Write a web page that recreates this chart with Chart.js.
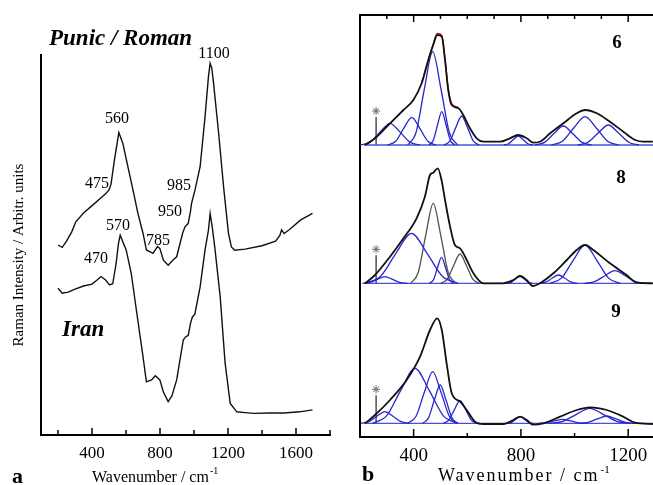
<!DOCTYPE html>
<html>
<head>
<meta charset="utf-8">
<script src="https://cdn.jsdelivr.net/npm/chart.js@4.4.1/dist/chart.umd.min.js"></script>
<style>
html, body { margin: 0; padding: 0; background: #fff; overflow: hidden; width: 653px; height: 485px; }
#a { position: absolute; left: 0; top: 0; }
#b { position: absolute; left: 330px; top: 0; }
</style>
</head>
<body>
<canvas id="a" width="345" height="485"></canvas>
<canvas id="b" width="400" height="485"></canvas>
<script>
// ---- panel a : two raw spectra (arbitrary units) ----
var punicX = [200,225,250,280,305,350,404,450,483,500,512,532,558,581,611,641,670,700,720,759,785,799,820,848,875,898,933,947,966,978,986,1006,1036,1065,1085,1095,1105,1115,1145,1174,1203,1220,1240,1300,1400,1480,1505,1515,1530,1560,1628,1697];
var punicY = [50,49.4,51,53.4,56.1,58.4,60.5,62.3,63.6,64.5,66,72.4,79.6,76.8,70.6,64.5,58.3,53.1,48.7,47.8,49.6,49.1,46,44.7,46,46.9,53.1,54.8,55.7,58.5,61,64.5,70.6,83.8,94.3,97.8,96.5,92.6,79.4,65.3,53,49.5,48.6,48.9,49.8,51,52.5,54,53,54,56.6,58.3];
var iranX = [200,225,260,300,350,400,430,453,480,503,522,542,556,566,580,601,631,661,700,720,750,772,799,820,848,870,898,937,950,966,980,990,1005,1036,1065,1085,1095,1108,1124,1154,1183,1213,1252,1300,1352,1450,1529,1620,1697];
var iranY = [38.6,37.3,37.6,38.4,39.2,39.7,40.8,41.7,40.8,39.5,39.8,45.2,50.5,52.6,51,48.7,42.5,32.9,20.6,14,14.5,15.6,14.5,11.3,8.8,10.3,14.5,25,25.8,26.2,29.5,31,31.8,39,48.7,53.9,58.3,54.5,48.7,36.4,18.9,8.3,6.1,5.9,5.7,5.8,5.8,6.1,6.6];
var aTicks = [200,400,600,800,1000,1200,1400,1600,1800];
var aLabels = [400,800,1200,1600];

// ---- panel b : band fits of samples 6, 8, 9 ----
var sub6X = [219,256,312,362,399,430,455,473,488,505,517,529,542,567,585,610,635,660,722,759,790,822,846,871,909,958,1008,1039,1083,1132,1182,1226,1257,1292];
var sub6Y = [0,6.7,21.7,35,45,61.7,85,100,110,108.3,85,55,40,36.7,30,16.7,6.7,3.3,3.3,6.7,10,6.7,2.3,3.3,11.7,21.7,31.7,35,31.7,23.3,13.3,5,3.3,3.3];
var fit6X = [430,455,473,488,505,517,529,542,567];
var fit6Y = [62.5,86,101,111.5,109.5,86.5,56.5,41.5,37.5];
var bands6 = [
  [[201,0],[238,2.9],[275,13],[312,21.7],[349,13],[386,2.9],[423,0]],
  [[303,0],[333,3.7],[363,16.6],[393,27.7],[423,16.6],[453,3.7],[483,0]],
  [[378,0],[409,12.6],[440,56],[471,93.3],[502,56],[533,12.6],[564,0]],
  [[457,0],[473,4.5],[489,20],[505,33.3],[521,20],[537,4.5],[553,0]],
  [[513,0],[535,3.9],[557,17.4],[579,29],[601,17.4],[623,3.9],[645,0]],
  [[736,0],[754,1.2],[772,5.4],[790,9],[808,5.4],[826,1.2],[844,0]],
  [[853,0],[888,2.6],[923,11.4],[958,19],[993,11.4],[1028,2.6],[1063,0]],
  [[913,0],[955,3.8],[997,17],[1039,28.3],[1081,17],[1123,3.8],[1165,0]],
  [[1012,0],[1050,2.7],[1088,12],[1126,20],[1164,12],[1202,2.7],[1240,0]]
];
var sub8X = [219,256,312,362,411,442,461,473,490,504,517,536,554,573,592,623,660,734,772,797,821,844,871,921,971,1008,1039,1070,1132,1194,1232,1292];
var sub8Y = [0,8.3,26.6,45,65,86.6,108.3,110.6,115,103.3,83.3,56.6,38.3,35,26.6,10,0,0,3.3,7.3,3.3,-2.7,0,10,23.3,33.3,38.3,33.3,20,8.3,0.7,0];
var bands8 = [
  [[209,0],[237,0.9],[265,4],[293,6.7],[321,4],[349,0.9],[377,0]],
  [[218,0],[276,6.8],[334,30],[392,50],[450,30],[508,6.8],[566,0]],
  [[389,0],[417,10.8],[445,48],[473,80],[501,48],[529,10.8],[557,0]],
  [[459,0],[474,3.5],[489,15.6],[504,26],[519,15.6],[534,3.5],[549,0]],
  [[501,0],[525,4],[549,17.6],[573,29.3],[597,17.6],[621,4],[645,0]],
  [[748,0],[764,1],[780,4.4],[796,7.3],[812,4.4],[828,1],[844,0]],
  [[868,0],[892,1.1],[916,5],[940,8.3],[964,5],[988,1.1],[1012,0]],
  [[907,0],[951,5.2],[995,23],[1039,38.3],[1083,23],[1127,5.2],[1171,0]],
  [[1037,0],[1075,1.7],[1113,7.6],[1151,12.7],[1189,7.6],[1227,1.7],[1265,0]]
];
var sub9X = [219,256,312,374,424,461,488,505,523,542,573,598,629,660,735,772,797,822,844,884,946,1008,1058,1120,1182,1225,1292];
var sub9Y = [0,8.3,23.3,43.3,66.6,93.3,105,93.3,60,30,21.6,13.3,1.6,-0.7,-0.7,3.3,6.6,3.3,-1.3,0,6.6,13.3,16,13.3,6.6,0.6,-0.7];
var bands9 = [
  [[203,0],[233,1.6],[263,7],[293,11.7],[323,7],[353,1.6],[383,0]],
  [[246,0],[299,7.4],[352,33],[405,55],[458,33],[511,7.4],[564,0]],
  [[378,0],[409,7],[440,31],[471,51.6],[502,31],[533,7],[564,0]],
  [[433,0],[455,5.2],[477,23],[499,38.3],[521,23],[543,5.2],[565,0]],
  [[510,0],[531,3.1],[552,13.6],[573,22.6],[594,13.6],[615,3.1],[636,0]],
  [[749,0],[765,0.9],[781,4],[797,6.6],[813,4],[829,0.9],[845,0]],
  [[865,0],[895,0.5],[925,2.4],[955,4],[985,2.4],[1015,0.5],[1045,0]],
  [[907,0],[957,2],[1007,9],[1057,15],[1107,9],[1157,2],[1207,0]],
  [[1015,0],[1050,1],[1085,4.4],[1120,7.3],[1155,4.4],[1190,1],[1225,0]]
];
var baseX = [215, 1295];
var starAt = 260;
var starStem = [0, 28];
var starMark = 34;
var bLabels = [400, 800, 1200];
var bMinor = [600, 1000];
var bTopTicks = [300,400,500,600,700,800,900,1000,1100,1200];

Chart.defaults.font.family = "'Liberation Serif', 'DejaVu Serif', serif";
Chart.defaults.color = '#000';

function pts(xs, ys) { return xs.map(function (x, i) { return { x: x, y: ys[i] }; }); }
function pairs(list) { return list.map(function (p) { return { x: p[0], y: p[1] }; }); }
function fixW(w) { return function (s) { s.width = w; }; }
function fixH(h) { return function (s) { s.height = h; }; }

// plain canvas texts (labels, titles)
var textPlugin = {
  id: 'texts',
  afterDraw: function (chart, args, opts) {
    var ctx = chart.ctx;
    (opts.items || []).forEach(function (t) {
      ctx.save();
      ctx.font = t.font;
      ctx.fillStyle = '#000';
      ctx.textAlign = t.align || 'center';
      ctx.textBaseline = 'alphabetic';
      ctx.letterSpacing = t.spacing || '0px';
      ctx.translate(t.x, t.y);
      if (t.rotate) ctx.rotate(t.rotate);
      ctx.fillText(t.text, 0, 0);
      if (t.sup) {
        var w = ctx.measureText(t.text).width;
        ctx.font = t.supFont;
        ctx.letterSpacing = '0px';
        ctx.textAlign = 'left';
        ctx.fillText(t.sup, w + 1, -8);
      }
      ctx.restore();
    });
  }
};

// tick marks pointing into the plot
var inTicks = {
  id: 'inTicks',
  afterDraw: function (chart, args, opts) {
    var ctx = chart.ctx, a = chart.chartArea;
    ctx.save();
    ctx.strokeStyle = '#000';
    ctx.lineWidth = 1.5;
    (opts.marks || []).forEach(function (m) {
      var sc = chart.scales[m.scale];
      var y0 = m.side === 'top' ? a.top : a.bottom;
      var dir = m.side === 'top' ? 1 : -1;
      m.values.forEach(function (v) {
        var px = sc.getPixelForValue(v);
        var len = (m.major && m.major.indexOf(v) >= 0) ? m.majorLen : m.len;
        ctx.beginPath();
        ctx.moveTo(px, y0);
        ctx.lineTo(px, y0 + dir * len);
        ctx.stroke();
      });
    });
    ctx.restore();
  }
};

var axisBorder = { display: true, color: '#000', width: 2 };
var noGrid = { display: false, drawTicks: false };

new Chart(document.getElementById('a'), {
  type: 'line',
  data: {
    datasets: [
      { data: pts(punicX, punicY), borderColor: '#111', borderWidth: 1.4, pointRadius: 0, tension: 0 },
      { data: pts(iranX, iranY), borderColor: '#111', borderWidth: 1.4, pointRadius: 0, tension: 0 }
    ]
  },
  options: {
    responsive: false,
    animation: false,
    events: [],
    layout: { padding: { top: 55, right: 15, left: 0, bottom: 0 } },
    plugins: {
      legend: { display: false },
      tooltip: { enabled: false },
      inTicks: { marks: [{ scale: 'x', side: 'bottom', values: aTicks, major: aLabels, majorLen: 7, len: 5 }] },
      texts: {
        items: [
          { text: 'Punic / Roman', x: 49, y: 45, align: 'left', font: 'italic bold 23px "Liberation Serif"' },
          { text: 'Iran', x: 62, y: 336, align: 'left', font: 'italic bold 23px "Liberation Serif"' },
          { text: '1100', x: 214, y: 58, font: '16px "Liberation Serif"' },
          { text: '560', x: 117, y: 123, font: '16px "Liberation Serif"' },
          { text: '475', x: 97, y: 188, font: '16px "Liberation Serif"' },
          { text: '985', x: 179, y: 190, font: '16px "Liberation Serif"' },
          { text: '950', x: 170, y: 216, font: '16px "Liberation Serif"' },
          { text: '570', x: 118, y: 230, font: '16px "Liberation Serif"' },
          { text: '785', x: 158, y: 245, font: '16px "Liberation Serif"' },
          { text: '470', x: 96, y: 263, font: '16px "Liberation Serif"' },
          { text: 'Raman Intensity / Arbitr. units', x: 23, y: 255, rotate: -Math.PI / 2, font: '15px "Liberation Serif"' },
          { text: 'Wavenumber / cm', x: 92, y: 482, align: 'left', font: '16px "Liberation Serif"', sup: '-1', supFont: '10px "Liberation Serif"' },
          { text: 'a', x: 12, y: 483, align: 'left', font: 'bold 22px "Liberation Serif"' }
        ]
      }
    },
    scales: {
      x: {
        type: 'linear', min: 100, max: 1800,
        afterBuildTicks: function (s) { s.ticks = aTicks.map(function (v) { return { value: v }; }); },
        afterFit: fixH(50),
        grid: noGrid, border: axisBorder,
        ticks: { autoSkip: false, maxRotation: 0, padding: 8, font: { size: 17 }, color: '#000',
          callback: function (v) { return aLabels.indexOf(v) >= 0 ? String(v) : ''; } }
      },
      y: {
        min: 0, max: 100, afterFit: fixW(41),
        ticks: { display: false }, grid: noGrid, border: axisBorder
      }
    }
  },
  plugins: [textPlugin, inTicks]
});

// ---- panel b datasets ----
var BLUE = 'rgb(40,40,205)';
var GREY = 'rgb(80,80,80)';
var greyBands8 = [2, 4];
var dsB = [];
function addSub(axis, ex, ey, bands, greyIdx) {
  dsB.push({ yAxisID: axis, data: pts(ex, ey), borderColor: '#111', borderWidth: 1.8, pointRadius: 0, cubicInterpolationMode: 'monotone' });
  bands.forEach(function (b, i) {
    var grey = greyIdx && greyIdx.indexOf(i) >= 0;
    dsB.push({ yAxisID: axis, data: pairs(b), borderColor: grey ? GREY : BLUE, borderWidth: 1.3, pointRadius: 0, cubicInterpolationMode: 'monotone' });
  });
  dsB.push({ yAxisID: axis, data: pts(baseX, [0, 0]), borderColor: 'rgb(70,80,220)', borderWidth: 1.3, pointRadius: 0 });
  dsB.push({ yAxisID: axis, data: pts([starAt, starAt], starStem), borderColor: '#222', borderWidth: 1.2, pointRadius: 0 });
  dsB.push({ yAxisID: axis, data: [{ x: starAt, y: starMark }], showLine: false, pointStyle: 'star', pointRadius: 4, borderColor: '#666', borderWidth: 1 });
}
addSub('y6', sub6X, sub6Y, bands6, null);
dsB.push({ yAxisID: 'y6', data: pts(fit6X, fit6Y), borderColor: 'rgb(200,30,30)', borderWidth: 1.3, pointRadius: 0, cubicInterpolationMode: 'monotone' });
addSub('y8', sub8X, sub8Y, bands8, greyBands8);
addSub('y9', sub9X, sub9Y, bands9, null);

var OX = 330;
new Chart(document.getElementById('b'), {
  type: 'line',
  data: { datasets: dsB },
  options: {
    responsive: false,
    animation: false,
    events: [],
    layout: { padding: { top: 0, right: 75, left: 0, bottom: 0 } },
    plugins: {
      legend: { display: false },
      tooltip: { enabled: false },
      inTicks: {
        marks: [
          { scale: 'x', side: 'bottom', values: bLabels.concat(bMinor), major: bLabels, majorLen: 8, len: 4 },
          { scale: 'x2', side: 'top', values: bTopTicks, major: bLabels, majorLen: 7, len: 4 }
        ]
      },
      texts: {
        items: [
          { text: '6', x: 617 - OX, y: 48, font: 'bold 19px "Liberation Serif"' },
          { text: '8', x: 621 - OX, y: 183, font: 'bold 19px "Liberation Serif"' },
          { text: '9', x: 616 - OX, y: 317, font: 'bold 19px "Liberation Serif"' },
          { text: 'Wavenumber / cm', x: 438 - OX, y: 481, align: 'left', spacing: '2px', font: '18px "Liberation Serif"', sup: '-1', supFont: '11px "Liberation Serif"' },
          { text: 'b', x: 362 - OX, y: 481, align: 'left', font: 'bold 22px "Liberation Serif"' }
        ]
      }
    },
    scales: {
      x: {
        type: 'linear', position: 'bottom', min: 200, max: 1300,
        afterBuildTicks: function (s) { s.ticks = bLabels.map(function (v) { return { value: v }; }); },
        afterFit: fixH(48),
        grid: noGrid, border: axisBorder,
        ticks: { autoSkip: false, maxRotation: 0, padding: 8, font: { size: 19 }, color: '#000',
          callback: function (v) { return String(v); } }
      },
      x2: {
        type: 'linear', axis: 'x', position: 'top', min: 200, max: 1300,
        afterFit: fixH(15), ticks: { display: false }, grid: noGrid, border: axisBorder
      },
      y: { min: 0, max: 1, afterFit: fixW(30), ticks: { display: false }, grid: noGrid, border: axisBorder },
      y6: { axis: 'y', position: 'left', display: false, min: -292, max: 130 },
      y8: { axis: 'y', position: 'left', display: false, min: -153.7, max: 268.3 },
      y9: { axis: 'y', position: 'left', display: false, min: -13.7, max: 408.3 }
    }
  },
  plugins: [textPlugin, inTicks]
});
</script>
</body>
</html>
